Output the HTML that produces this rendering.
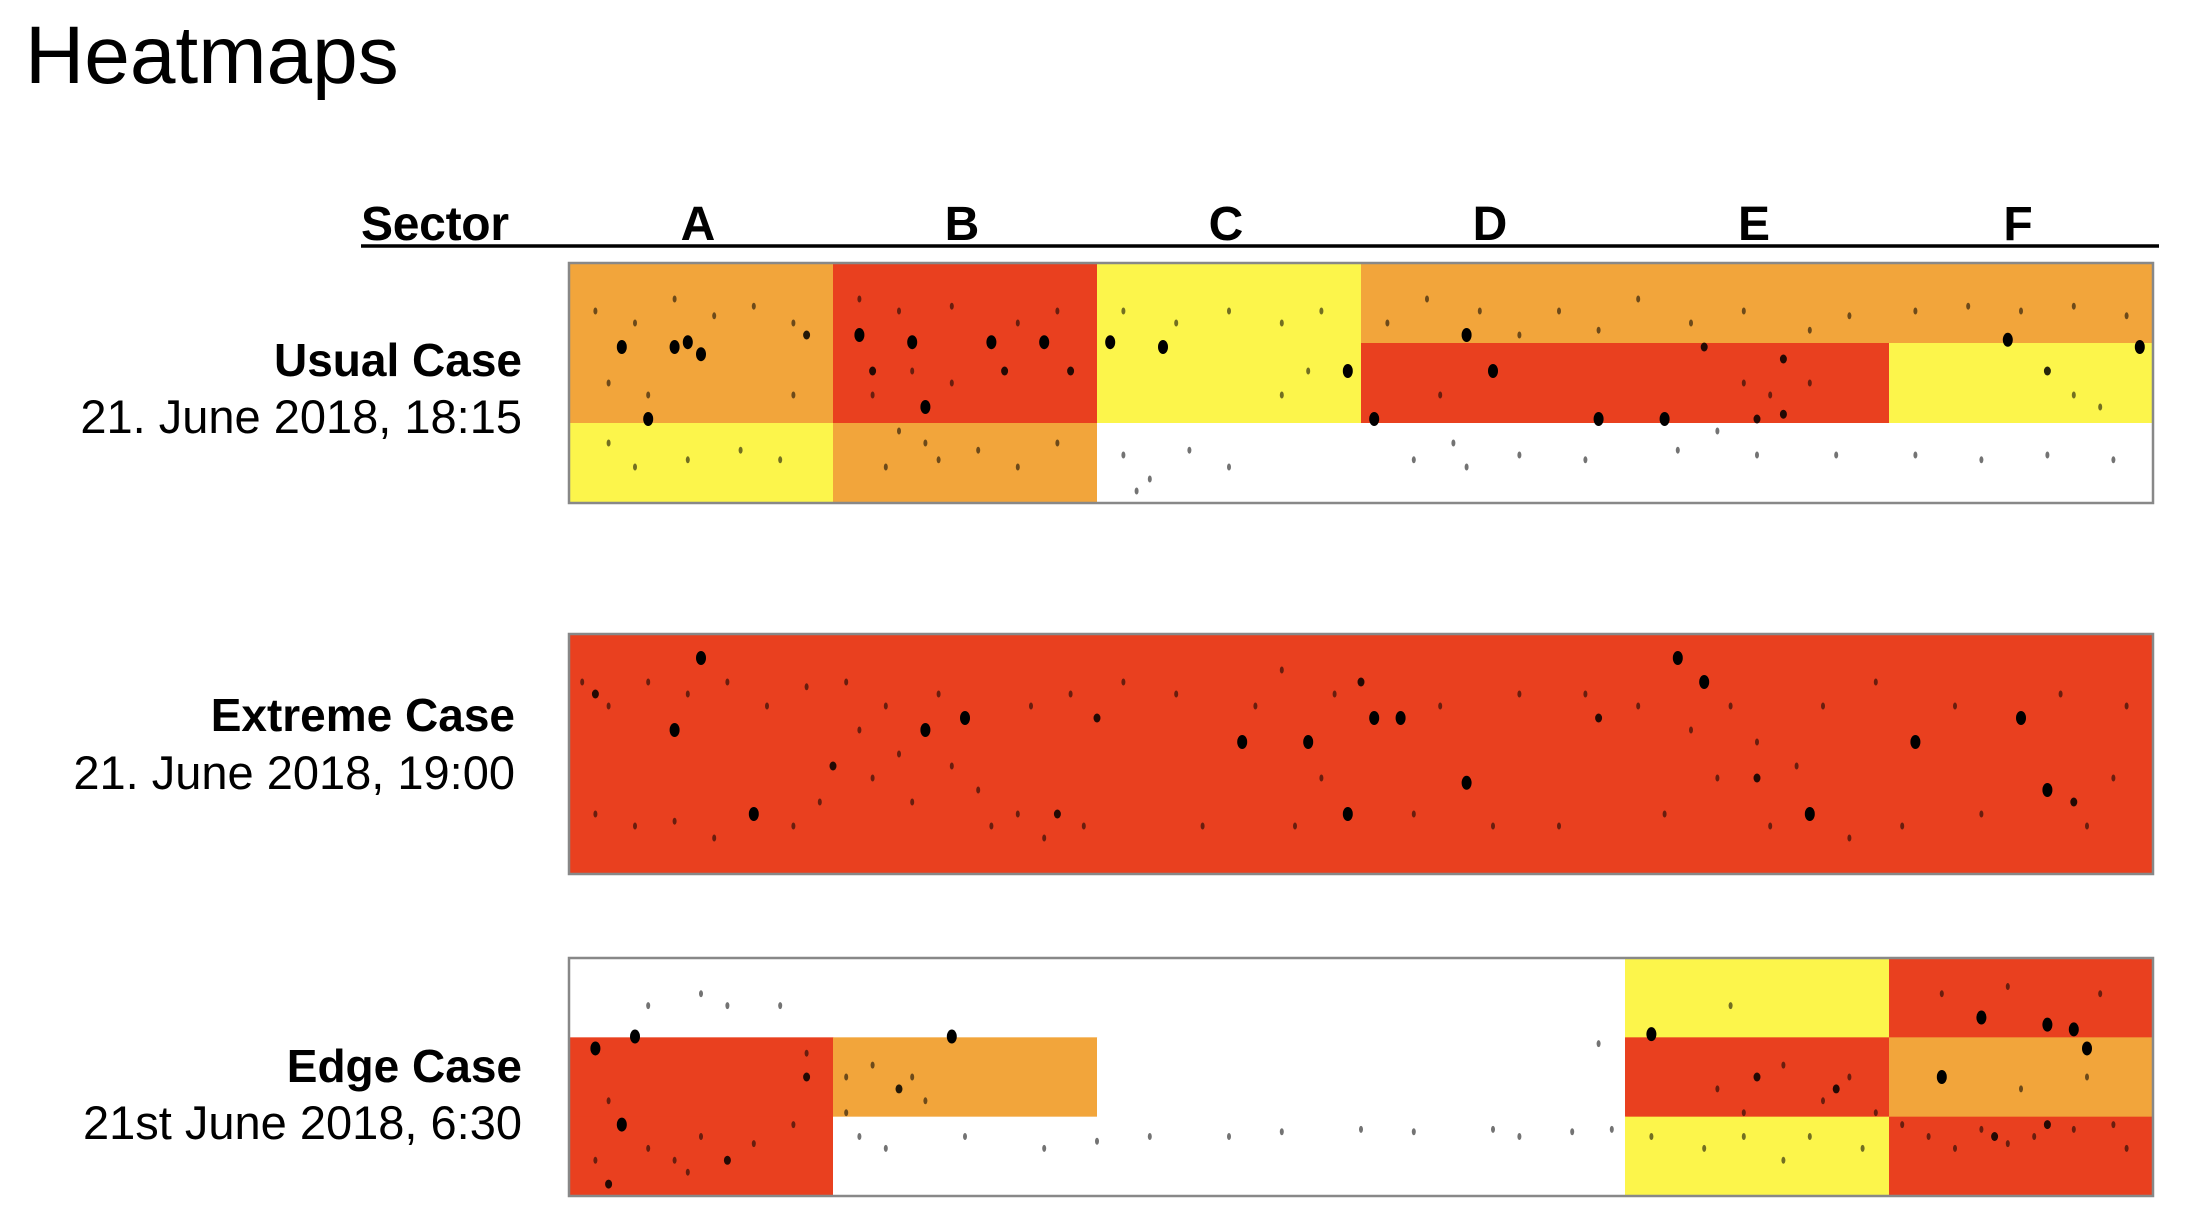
<!DOCTYPE html>
<html><head><meta charset="utf-8"><style>
html,body{margin:0;padding:0;background:#fff;}
svg{display:block;font-family:"Liberation Sans",Arial,sans-serif;}
</style></head><body>
<svg id="chart" width="2202" height="1232" viewBox="0 0 2202 1232" xmlns="http://www.w3.org/2000/svg">
<text x="25" y="83" font-size="82" fill="#000">Heatmaps</text>
<g id="header"></g>
<g id="panels"></g>
</svg>
<script>
const sectors = ["A","B","C","D","E","F"];
const caseTitles = ["Usual Case","Extreme Case","Edge Case"];
const caseDates = ["21. June 2018, 18:15","21. June 2018, 19:00","21st June 2018, 6:30"];
// levels per case: [row][sector], 0=none,1=low(yellow),2=mid(orange),3=high(red)
const usualLevels = [[2,3,1,2,2,2],[2,3,1,3,3,1],[1,2,0,0,0,0]];
const extremeLevels = [[3,3,3,3,3,3],[3,3,3,3,3,3],[3,3,3,3,3,3]];
const edgeLevels = [[0,0,0,0,1,3],[3,2,0,0,3,2],[3,0,0,0,1,3]];
// dots: [sector position 0-6, vertical position 0-1, size]
const usualDots = [[0.2,0.35,3],[0.4,0.35,3],[0.5,0.38,3],[0.9,0.3,2],[1.1,0.3,3],[1.3,0.33,3],[1.6,0.33,3],[1.65,0.45,2],[1.8,0.33,3],[0.3,0.65,3],[2.05,0.33,3],[2.25,0.35,3],[2.95,0.45,3],[3.4,0.3,3],[3.5,0.45,3],[3.05,0.65,3],[3.9,0.65,3],[4.15,0.65,3],[4.5,0.65,2],[4.6,0.63,2],[5.45,0.32,3],[5.6,0.45,2],[5.95,0.35,3],[1.35,0.6,3],[0.45,0.33,3],[1.15,0.45,2],[1.9,0.45,2],[4.3,0.35,2],[4.6,0.4,2],
[0.1,0.2,1],[0.25,0.25,1],[0.4,0.15,1],[0.55,0.22,1],[0.7,0.18,1],[0.85,0.25,1],[0.15,0.5,1],[0.3,0.55,1],[0.85,0.55,1],[0.25,0.85,1],[0.45,0.82,1],[0.65,0.78,1],[0.8,0.82,1],[0.15,0.75,1],
[1.1,0.15,1],[1.25,0.2,1],[1.45,0.18,1],[1.7,0.25,1],[1.85,0.2,1],[1.15,0.55,1],[1.25,0.7,1],[1.35,0.75,1],[1.2,0.85,1],[1.4,0.82,1],[1.55,0.78,1],[1.7,0.85,1],[1.85,0.75,1],[1.3,0.45,1],[1.45,0.5,1],
[2.1,0.2,1],[2.3,0.25,1],[2.5,0.2,1],[2.7,0.25,1],[2.85,0.2,1],[2.7,0.55,1],[2.8,0.45,1],[2.1,0.8,1],[2.2,0.9,1],[2.35,0.78,1],[2.5,0.85,1],[2.15,0.95,1],
[3.1,0.25,1],[3.25,0.15,1],[3.45,0.2,1],[3.6,0.3,1],[3.75,0.2,1],[3.9,0.28,1],[4.05,0.15,1],[4.25,0.25,1],[4.45,0.2,1],[4.7,0.28,1],[4.85,0.22,1],[5.1,0.2,1],[5.3,0.18,1],[5.5,0.2,1],[5.7,0.18,1],[5.9,0.22,1],
[3.3,0.55,1],[3.35,0.75,1],[4.45,0.5,1],[4.55,0.55,1],[4.7,0.5,1],[4.35,0.7,1],[3.2,0.82,1],[3.4,0.85,1],[3.6,0.8,1],[3.85,0.82,1],[4.2,0.78,1],[4.5,0.8,1],[4.8,0.8,1],[5.1,0.8,1],[5.35,0.82,1],[5.6,0.8,1],[5.85,0.82,1],[5.7,0.55,1],[5.8,0.6,1]];
const extremeDots = [[0.5,0.1,3],[0.1,0.25,2],[0.4,0.4,3],[0.7,0.75,3],[1.0,0.55,2],[1.35,0.4,3],[1.5,0.35,3],[1.85,0.75,2],[2.0,0.35,2],[2.55,0.45,3],[2.8,0.45,3],[2.95,0.75,3],[3.05,0.35,3],[3.15,0.35,3],[3.4,0.62,3],[3.9,0.35,2],[4.2,0.1,3],[4.5,0.6,2],[4.7,0.75,3],[5.1,0.45,3],[5.5,0.35,3],[5.6,0.65,3],[5.7,0.7,2],[4.3,0.2,3],[3.0,0.2,2],
[0.05,0.2,1],[0.15,0.3,1],[0.3,0.2,1],[0.45,0.25,1],[0.6,0.2,1],[0.75,0.3,1],[0.9,0.22,1],[0.1,0.75,1],[0.25,0.8,1],[0.4,0.78,1],[0.55,0.85,1],[0.85,0.8,1],[0.95,0.7,1],
[1.05,0.2,1],[1.1,0.4,1],[1.15,0.6,1],[1.2,0.3,1],[1.25,0.5,1],[1.3,0.7,1],[1.4,0.25,1],[1.45,0.55,1],[1.55,0.65,1],[1.6,0.8,1],[1.7,0.75,1],[1.8,0.85,1],[1.95,0.8,1],[1.75,0.3,1],[1.9,0.25,1],
[2.1,0.2,1],[2.3,0.25,1],[2.4,0.8,1],[2.6,0.3,1],[2.7,0.15,1],[2.75,0.8,1],[2.85,0.6,1],[2.9,0.25,1],[3.2,0.75,1],[3.3,0.3,1],[3.5,0.8,1],[3.6,0.25,1],[3.75,0.8,1],[3.85,0.25,1],
[4.05,0.3,1],[4.15,0.75,1],[4.25,0.4,1],[4.35,0.6,1],[4.4,0.3,1],[4.5,0.45,1],[4.55,0.8,1],[4.65,0.55,1],[4.75,0.3,1],[4.85,0.85,1],[4.95,0.2,1],[5.05,0.8,1],[5.25,0.3,1],[5.35,0.75,1],[5.65,0.25,1],[5.75,0.8,1],[5.9,0.3,1],[5.85,0.6,1]];
const edgeDots = [[0.1,0.38,3],[0.25,0.33,3],[0.2,0.7,3],[0.15,0.95,2],[0.6,0.85,2],[0.9,0.5,2],[1.45,0.33,3],[1.25,0.55,2],[4.1,0.32,3],[4.5,0.5,2],[4.8,0.55,2],[5.2,0.5,3],[5.35,0.25,3],[5.6,0.28,3],[5.7,0.3,3],[5.75,0.38,3],[5.6,0.7,2],[5.4,0.75,2],
[0.4,0.85,1],[0.3,0.2,1],[0.8,0.2,1],[0.5,0.15,1],[0.6,0.2,1],[0.15,0.6,1],[0.3,0.8,1],[0.45,0.9,1],[0.5,0.75,1],[0.7,0.78,1],[0.85,0.7,1],[0.9,0.4,1],[0.1,0.85,1],
[1.1,0.75,1],[1.05,0.5,1],[1.15,0.45,1],[1.3,0.5,1],[1.35,0.6,1],[1.05,0.65,1],[1.2,0.8,1],[1.5,0.75,1],[1.8,0.8,1],[2.0,0.77,1],[2.2,0.75,1],[2.5,0.75,1],[2.7,0.73,1],
[3.0,0.72,1],[3.2,0.73,1],[3.5,0.72,1],[3.6,0.75,1],[3.8,0.73,1],[3.95,0.72,1],[3.9,0.36,1],
[4.1,0.75,1],[4.3,0.8,1],[4.45,0.75,1],[4.6,0.85,1],[4.7,0.75,1],[4.9,0.8,1],[4.35,0.55,1],[4.45,0.65,1],[4.6,0.45,1],[4.75,0.6,1],[4.85,0.5,1],[4.95,0.65,1],[4.4,0.2,1],
[5.05,0.7,1],[5.15,0.75,1],[5.25,0.8,1],[5.35,0.72,1],[5.45,0.78,1],[5.55,0.75,1],[5.7,0.72,1],[5.85,0.7,1],[5.9,0.8,1],[5.5,0.55,1],[5.75,0.5,1],[5.2,0.15,1],[5.45,0.12,1],[5.8,0.15,1]];

const colors = ["#ffffff","#fcf54b","#f2a53b","#e9401f"];
const panelX0 = 569, panelX1 = 2153;
const panelTops = [263, 634, 958];
const panelHeights = [240, 240, 238];
const labelRight = [522, 515, 522];
const titleBase = [376, 731, 1082];
const dateBase = [433, 789, 1139];
const levelsList = [usualLevels, extremeLevels, edgeLevels];
const dotsList = [usualDots, extremeDots, edgeDots];
const NS = "http://www.w3.org/2000/svg";
const colW = (panelX1 - panelX0) / sectors.length;
function xScale(s){ return panelX0 + s * colW; }
function yScale(p, v){ return panelTops[p] + v * panelHeights[p]; }

function mk(tag, attrs, parent){
  const e = document.createElementNS(NS, tag);
  for (const k in attrs) e.setAttribute(k, attrs[k]);
  parent.appendChild(e);
  return e;
}

const header = document.getElementById("header");
let t = mk("text", {x:361, y:240, "font-size":48, "font-weight":"bold", "textLength":148}, header);
t.textContent = "Sector";


let ln = mk("line", {x1:361, x2:2159, y1:246, y2:246, stroke:"#000", "stroke-width":3.5}, header);


sectors.forEach((s, i) => {
  const e = mk("text", {x:xScale(i + 0.5) - 3, y:240, "font-size":48, "font-weight":"bold", "text-anchor":"middle"}, header);
  e.textContent = s;
  
  
});

const panels = document.getElementById("panels");
levelsList.forEach((lv, p) => {
  const g = mk("g", {}, panels);
  
  
  const rowH = panelHeights[p] / lv.length;
  lv.forEach((row, r) => row.forEach((v, c) => {
    const rc = mk("rect", {x:xScale(c), y:panelTops[p] + r * rowH, width:colW + 0.5, height:rowH + 0.5, fill:colors[v]}, g);
    
    
  }));
  dotsList[p].forEach(d => {
    const big = d[2] >= 3;
    const el = mk("ellipse", {cx:xScale(d[0]), cy:yScale(p, d[1]), rx:big ? 5 : d[2] == 2 ? 3.5 : 2, ry:big ? 7 : d[2] == 2 ? 4.5 : 3.5, fill:"#000", "fill-opacity":big ? 1 : d[2] == 2 ? 0.85 : 0.55}, g);
    
    
  });
  const br = mk("rect", {x:panelX0, y:panelTops[p], width:panelX1 - panelX0, height:panelHeights[p], fill:"none", stroke:"#888", "stroke-width":2.5}, g);
  
  
  const tt = mk("text", {x:labelRight[p], y:titleBase[p], "font-size":46, "font-weight":"bold", "text-anchor":"end"}, g);
  tt.textContent = caseTitles[p];
  
  
  const dt = mk("text", {x:labelRight[p], y:dateBase[p], "font-size":47, "text-anchor":"end"}, g);
  dt.textContent = caseDates[p];
  
  
});
</script>
</body></html>
